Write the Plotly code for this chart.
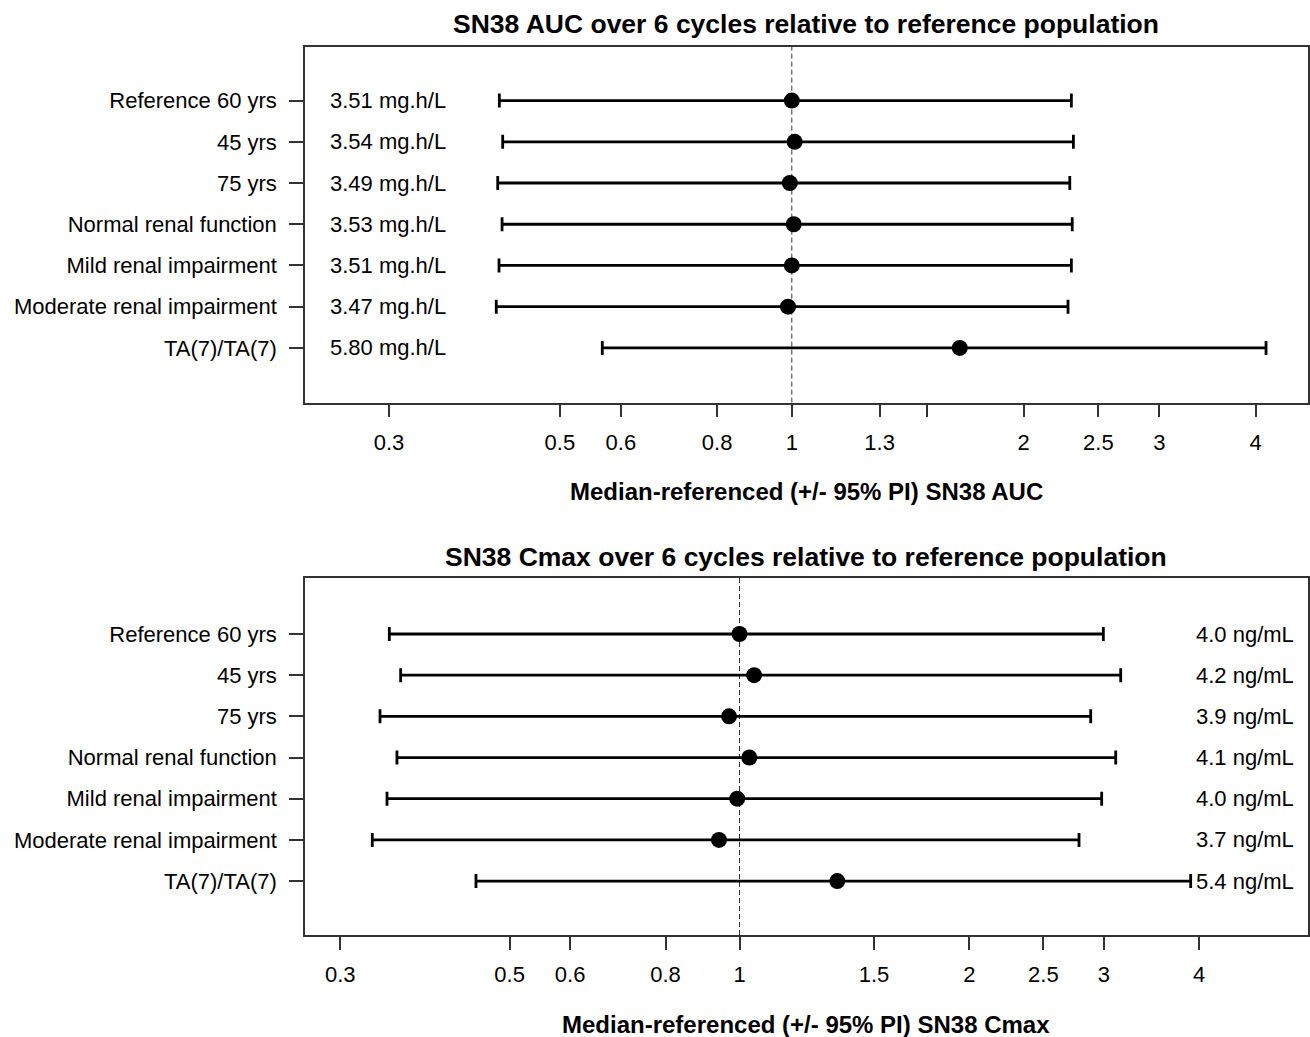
import plotly.graph_objects as go

# ---------------- data ----------------
categories = ["Reference 60 yrs", "45 yrs", "75 yrs", "Normal renal function",
              "Mild renal impairment", "Moderate renal impairment", "TA(7)/TA(7)"]

auc_median = [1.000, 1.0085, 0.994, 1.0057, 1.000, 0.9886, 1.652]
auc_lower = [0.4172, 0.4214, 0.4152, 0.4206, 0.4168, 0.4134, 0.5675]
auc_upper = [2.306, 2.320, 2.295, 2.312, 2.306, 2.283, 4.126]
auc_labels = ["3.51 mg.h/L", "3.54 mg.h/L", "3.49 mg.h/L", "3.53 mg.h/L",
              "3.51 mg.h/L", "3.47 mg.h/L", "5.80 mg.h/L"]

cmax_median = [1.000, 1.045, 0.969, 1.030, 0.993, 0.940, 1.343]
cmax_lower = [0.3478, 0.3599, 0.3382, 0.3559, 0.3454, 0.3304, 0.4517]
cmax_upper = [2.996, 3.157, 2.884, 3.110, 2.981, 2.784, 3.899]
cmax_labels = ["4.0 ng/mL", "4.2 ng/mL", "3.9 ng/mL", "4.1 ng/mL",
               "4.0 ng/mL", "3.7 ng/mL", "5.4 ng/mL"]

auc_ticks = [0.3, 0.5, 0.6, 0.8, 1, 1.3, 1.5, 2, 2.5, 3, 4]
auc_ticktext = ["0.3", "0.5", "0.6", "0.8", "1", "1.3", "", "2", "2.5", "3", "4"]
cmax_ticks = [0.3, 0.5, 0.6, 0.8, 1, 1.5, 2, 2.5, 3, 4]
cmax_ticktext = ["0.3", "0.5", "0.6", "0.8", "1", "1.5", "2", "2.5", "3", "4"]

title_auc = "SN38 AUC over 6 cycles relative to reference population"
title_cmax = "SN38 Cmax over 6 cycles relative to reference population"
xlab_auc = "Median-referenced (+/- 95% PI) SN38 AUC"
xlab_cmax = "Median-referenced (+/- 95% PI) SN38 Cmax"

# ---------------- figure ----------------
FONT = "Liberation Sans, Arial, sans-serif"
LINE = "#333333"
W, H = 1310, 1037
rows = [len(categories) - i for i in range(len(categories))]

fig = go.Figure()


def add_panel(med, lo, hi, xa, ya, yrange):
    fig.add_trace(go.Scatter(
        x=[1, 1], y=yrange, mode="lines",
        line=dict(color=LINE, width=1, dash="5px,3px"),
        xaxis=xa, yaxis=ya, hoverinfo="skip"))
    fig.add_trace(go.Scatter(
        x=med, y=rows, mode="markers",
        marker=dict(size=16, color="black"),
        error_x=dict(type="data", symmetric=False,
                     array=[h - m for h, m in zip(hi, med)],
                     arrayminus=[m - l for m, l in zip(med, lo)],
                     color="black", thickness=2.8, width=7),
        xaxis=xa, yaxis=ya))


yr_top = [-0.33, 8.30]
yr_bot = [-0.31, 8.36]
add_panel(auc_median, auc_lower, auc_upper, "x", "y", yr_top)
add_panel(cmax_median, cmax_lower, cmax_upper, "x2", "y2", yr_bot)

xdom = [305 / W, 1308 / W]


def xaxis_cfg(rng, tv, tt, anchor):
    return dict(type="log", range=rng, domain=xdom, anchor=anchor,
                tickvals=tv, ticktext=tt, ticks="outside", ticklen=13,
                tickwidth=1.5, tickcolor=LINE, showline=True, linecolor=LINE,
                linewidth=1.5, mirror=True, showgrid=False, zeroline=False,
                ticklabelstandoff=6,
                tickfont=dict(family=FONT, size=22, color="black"))


def yaxis_cfg(rng, dom, anchor):
    return dict(range=rng, domain=dom, anchor=anchor,
                tickvals=rows, ticktext=categories, ticks="outside", ticklen=14,
                tickwidth=1.5, tickcolor=LINE, showline=True, linecolor=LINE,
                linewidth=1.5, mirror=True, showgrid=False, zeroline=False,
                ticklabelstandoff=8,
                tickfont=dict(family=FONT, size=22, color="black"))


annotations = []
for r, t in zip(rows, auc_labels):
    annotations.append(dict(text=t, xref="x domain", yref="y", x=(328 - 305) / 1003, y=r,
                            xanchor="left", yanchor="middle", showarrow=False,
                            font=dict(family=FONT, size=22, color="black")))
for r, t in zip(rows, cmax_labels):
    annotations.append(dict(text=t, xref="x2 domain", yref="y2", x=(1296 - 305) / 1003, y=r,
                            xanchor="right", yanchor="middle", showarrow=False,
                            font=dict(family=FONT, size=22, color="black")))

for txt, ypx, size in [(title_auc, 24, 26.5), (title_cmax, 557, 26.5),
                       (xlab_auc, 491, 24), (xlab_cmax, 1024, 24)]:
    annotations.append(dict(text="<b>%s</b>" % txt, xref="paper", yref="paper",
                            x=806 / W, y=1 - ypx / H, xanchor="center", yanchor="middle",
                            showarrow=False, font=dict(family=FONT, size=size, color="black")))

fig.update_layout(
    width=W, height=H, margin=dict(l=0, r=0, t=0, b=0),
    paper_bgcolor="white", plot_bgcolor="white", showlegend=False,
    xaxis=xaxis_cfg([-0.6319, 0.6700], auc_ticks, auc_ticktext, "y"),
    yaxis=yaxis_cfg(yr_top, [1 - 402.7 / H, 1 - 47 / H], "x"),
    xaxis2=xaxis_cfg([-0.5691, 0.7446], cmax_ticks, cmax_ticktext, "y2"),
    yaxis2=yaxis_cfg(yr_bot, [1 - 935 / H, 1 - 578 / H], "x2"),
    annotations=annotations,
)

fig.write_html("out.html",
               config={"displayModeBar": False},
               post_script="document.body.style.margin='0px';"
                           "document.body.style.overflow='hidden';")
